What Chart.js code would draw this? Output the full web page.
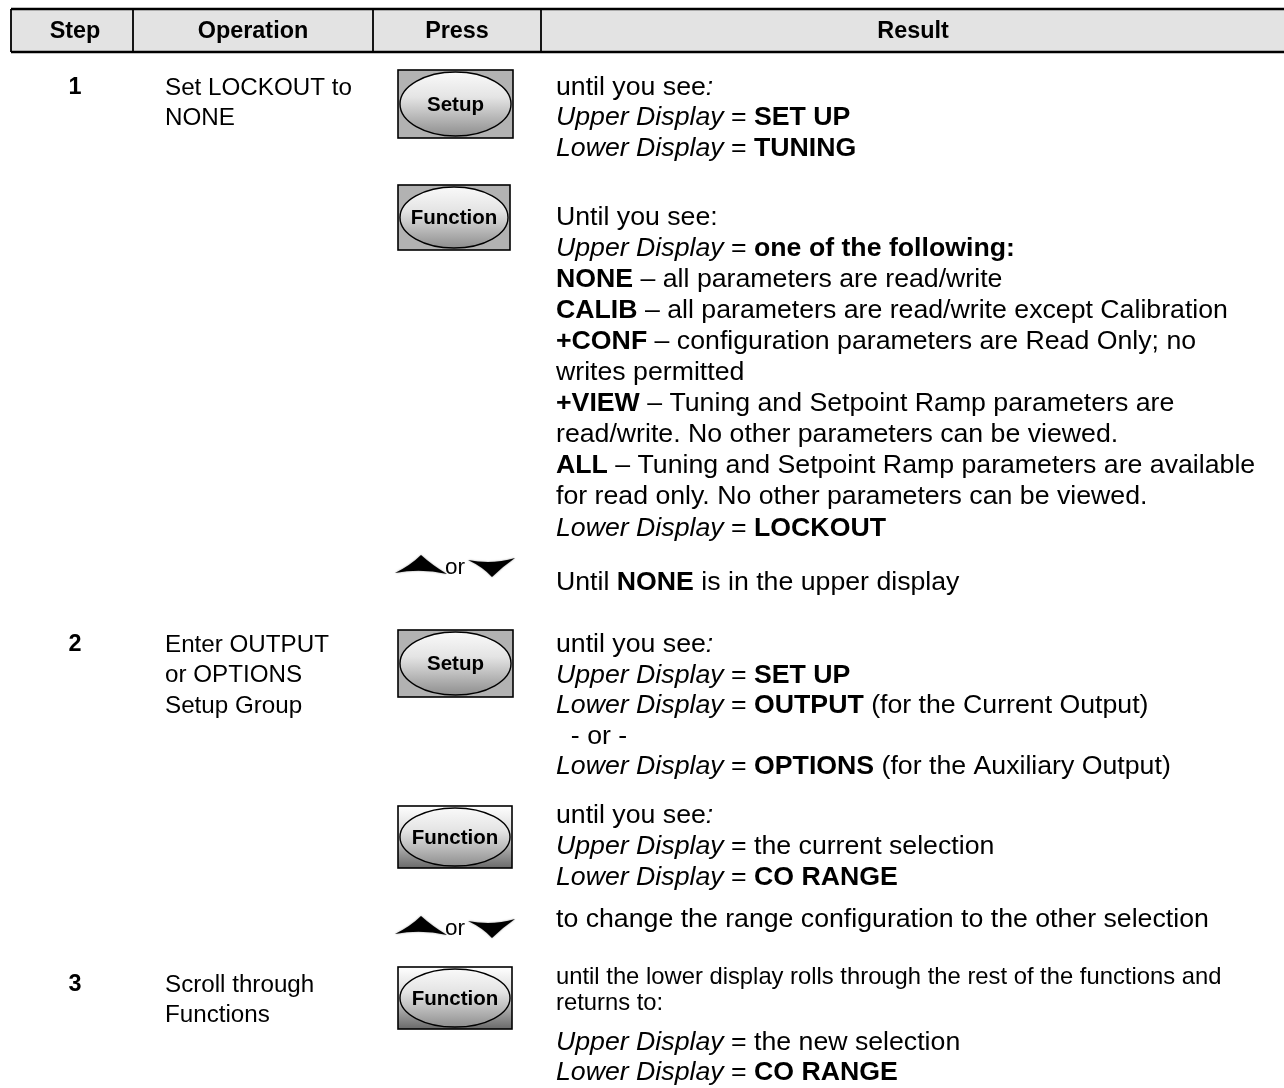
<!DOCTYPE html>
<html><head><meta charset="utf-8">
<script src="https://cdn.jsdelivr.net/npm/chart.js@4/dist/chart.umd.min.js"></script>
<style>html,body{margin:0;padding:0;background:#fff}canvas{display:block}</style>
</head><body>
<canvas id="c" width="1284" height="1088"></canvas>
<script>
// ---------- content ----------
const columns = ['Step', 'Operation', 'Press', 'Result'];
const steps = ['1', '2', '3'];
const operations = [
  ['Set LOCKOUT to', 'NONE'],
  ['Enter OUTPUT', 'or OPTIONS', 'Setup Group'],
  ['Scroll through', 'Functions']
];
// keys pressed, in order (arrows = up "or" down)
const pressKeys = ['Setup', 'Function', 'arrows', 'Setup', 'Function', 'arrows', 'Function'];
const arrowWord = 'or';
// result lines per key press; _italic_  *bold*
const results = [
  ['until you see_:_', '_Upper Display_ = *SET UP*', '_Lower Display_ = *TUNING*'],
  ['Until you see:', '_Upper Display_ = *one of the following:*',
   '*NONE* – all parameters are read/write',
   '*CALIB* – all parameters are read/write except Calibration',
   '*+CONF* – configuration parameters are Read Only; no',
   'writes permitted',
   '*+VIEW* – Tuning and Setpoint Ramp parameters are',
   'read/write. No other parameters can be viewed.',
   '*ALL* – Tuning and Setpoint Ramp parameters are available',
   'for read only. No other parameters can be viewed.',
   '_Lower Display_ = *LOCKOUT*'],
  ['Until *NONE* is in the upper display'],
  ['until you see_:_', '_Upper Display_ = *SET UP*',
   '_Lower Display_ = *OUTPUT* (for the Current Output)',
   '  - or -',
   '_Lower Display_ = *OPTIONS* (for the Auxiliary Output)'],
  ['until you see_:_', '_Upper Display_ = the current selection', '_Lower Display_ = *CO RANGE*'],
  ['to change the range configuration to the other selection'],
  ['until the lower display rolls through the rest of the functions and', 'returns to:',
   '_Upper Display_ = the new selection', '_Lower Display_ = *CO RANGE*']
];

// ---------- layout (positions, sizes, styles) ----------
const L = {
  colEdges: [11, 133, 373, 541, 1284],
  headX: [75, 253, 457, 913],
  headTop: 9, headBottom: 52,
  stepX: 75,
  stepY: [88, 645, 985],
  opLineH: 30.5,
  opX: 165,
  resX: 556,
  resY: [[88,118,149],[218,249,280,311,342,373,404,435,466,497,529],[583],[645,676,706,737,767],[816,847,878],[920],[977,1003,1043,1073]],
  smallLines: {6: [0,1]},
  keyBox: [[398,513,70,138],[398,510,185,250],null,[398,513,630,697],[398,512,806,868],null,[398,512,967,1029]],
  keyGrad: [false,false,null,false,true,null,true],
  arrowY: [0,0,566,0,0,927,0],
  font: '"Liberation Sans", Arial, Helvetica, sans-serif',
  size: 26.7, opSize: 24.2, headSize: 23.4, smallSize: 23.8, keySize: 20.5, orSize: 22.5,
  sx: 1
};

function parseRich(s) {
  const parts = s.split(/(\*[^*]+\*|_[^_]+_)/).filter(p => p.length);
  return parts.map(p => {
    if (p[0] === '*' && p[p.length-1] === '*') return {t: p.slice(1,-1), b: true};
    if (p[0] === '_' && p[p.length-1] === '_') return {t: p.slice(1,-1), i: true};
    return {t: p};
  });
}
function fontStr(r, size) {
  return (r.i ? 'italic ' : '') + (r.b ? 'bold ' : '') + size + 'px ' + L.font;
}
function richWidth(ctx, s, size) {
  let w = 0;
  for (const r of parseRich(s)) { ctx.font = fontStr(r, size); w += ctx.measureText(r.t).width; }
  return w;
}
function drawRich(ctx, s, x, y, size, align) {
  ctx.save();
  ctx.textBaseline = 'middle';
  ctx.textAlign = 'left';
  ctx.fillStyle = '#000';
  let w = richWidth(ctx, s, size) * L.sx;
  let x0 = x;
  if (align === 'center') x0 = x - w / 2;
  ctx.translate(x0, y);
  ctx.scale(L.sx, 1);
  let cx = 0;
  for (const r of parseRich(s)) {
    ctx.font = fontStr(r, size);
    ctx.fillText(r.t, cx, 0);
    cx += ctx.measureText(r.t).width;
  }
  ctx.restore();
}

function drawKey(ctx, label, x0, x1, y0, y1, grad) {
  const w = x1 - x0, h = y1 - y0;
  ctx.save();
  if (grad) {
    const g = ctx.createLinearGradient(0, y0, 0, y1);
    g.addColorStop(0, '#ffffff'); g.addColorStop(0.45, '#d8d8d8'); g.addColorStop(1, '#6a6a6a');
    ctx.fillStyle = g;
  } else ctx.fillStyle = '#b2b2b2';
  ctx.fillRect(x0, y0, w, h);
  ctx.lineWidth = 1.6; ctx.strokeStyle = '#000';
  ctx.strokeRect(x0, y0, w, h);
  const cx = (x0 + x1) / 2, cy = (y0 + y1) / 2;
  ctx.beginPath();
  ctx.ellipse(cx, cy, w / 2 - 2, h / 2 - 2, 0, 0, Math.PI * 2);
  const g2 = ctx.createLinearGradient(0, y0, 0, y1);
  g2.addColorStop(0, '#fbfbfb'); g2.addColorStop(0.4, '#e4e4e4'); g2.addColorStop(1, '#8a8a8a');
  ctx.fillStyle = g2; ctx.fill();
  ctx.lineWidth = 1.4; ctx.stroke();
  ctx.restore();
  drawRich(ctx, '*' + label + '*', cx, cy + 1, L.keySize, 'center');
}

function drawArrows(ctx, xs, ys, cy) {
  ctx.save();
  ctx.fillStyle = '#000';
  ctx.shadowColor = 'rgba(0,0,0,0.45)'; ctx.shadowBlur = 2;
  // up arrow
  const ux = xs(421), ut = ys(cy - 11), ub = ys(cy + 7);
  ctx.beginPath();
  ctx.moveTo(xs(395), ub);
  ctx.quadraticCurveTo(xs(411), ys(cy - 1), ux, ut);
  ctx.quadraticCurveTo(xs(432), ys(cy - 1), xs(447), ys(cy + 8));
  ctx.quadraticCurveTo(ux, ys(cy + 2), xs(395), ub);
  ctx.fill();
  // down arrow
  const dx = xs(492);
  ctx.beginPath();
  ctx.moveTo(xs(468), ys(cy - 6));
  ctx.quadraticCurveTo(xs(483), ys(cy + 1), dx, ys(cy + 11));
  ctx.quadraticCurveTo(xs(502), ys(cy + 1), xs(515), ys(cy - 8));
  ctx.quadraticCurveTo(dx, ys(cy - 1), xs(468), ys(cy - 6));
  ctx.fill();
  ctx.restore();
  drawRich(ctx, arrowWord, xs(455), ys(cy + 2), L.orSize, 'center');
}

const tablePlugin = {
  id: 'stepTable',
  afterDraw(chart) {
    const ctx = chart.ctx;
    const xs = v => chart.scales.x.getPixelForValue(v);
    const ys = v => chart.scales.y.getPixelForValue(v);
    const E = L.colEdges;
    // header
    ctx.save();
    ctx.fillStyle = '#e3e3e3';
    ctx.fillRect(xs(E[0]), ys(L.headTop), xs(E[4]) - xs(E[0]), ys(L.headBottom) - ys(L.headTop));
    ctx.strokeStyle = '#000'; ctx.lineWidth = 2.4;
    ctx.beginPath();
    ctx.moveTo(xs(E[0]), ys(L.headTop)); ctx.lineTo(xs(E[4]), ys(L.headTop));
    ctx.moveTo(xs(E[0]), ys(L.headBottom)); ctx.lineTo(xs(E[4]), ys(L.headBottom));
    ctx.stroke();
    ctx.lineWidth = 1.8;
    ctx.beginPath();
    for (let i = 0; i < 4; i++) {
      ctx.moveTo(xs(E[i]), ys(L.headTop)); ctx.lineTo(xs(E[i]), ys(L.headBottom));
    }
    ctx.stroke();
    ctx.restore();
    columns.forEach((c, i) => drawRich(ctx, '*' + c + '*', xs(L.headX[i]), ys((L.headTop + L.headBottom) / 2 + 1), L.headSize, 'center'));
    // steps & operations
    steps.forEach((s, i) => {
      drawRich(ctx, '*' + s + '*', xs(L.stepX), ys(L.stepY[i]), L.headSize, 'center');
      operations[i].forEach((o, j) => drawRich(ctx, o, xs(L.opX), ys(L.stepY[i] + j * L.opLineH), L.opSize, 'left'));
    });
    // press keys & results
    pressKeys.forEach((k, i) => {
      if (k === 'arrows') drawArrows(ctx, xs, ys, L.arrowY[i]);
      else {
        const b = L.keyBox[i];
        drawKey(ctx, k, xs(b[0]), xs(b[1]), ys(b[2]), ys(b[3]), L.keyGrad[i]);
      }
      results[i].forEach((line, j) => {
        const small = L.smallLines[i] && L.smallLines[i].includes(j);
        drawRich(ctx, line, xs(L.resX), ys(L.resY[i][j]), small ? L.smallSize : L.size, 'left');
      });
    });
  }
};

new Chart(document.getElementById('c'), {
  type: 'scatter',
  data: { datasets: [{ data: [], pointRadius: 0 }] },
  options: {
    responsive: false, animation: false, devicePixelRatio: 1,
    layout: { padding: 0 },
    plugins: { legend: { display: false }, tooltip: { enabled: false } },
    scales: {
      x: { type: 'linear', min: 0, max: 1284, display: false },
      y: { type: 'linear', min: 0, max: 1088, reverse: true, display: false }
    }
  },
  plugins: [tablePlugin]
});
</script>
</body></html>
